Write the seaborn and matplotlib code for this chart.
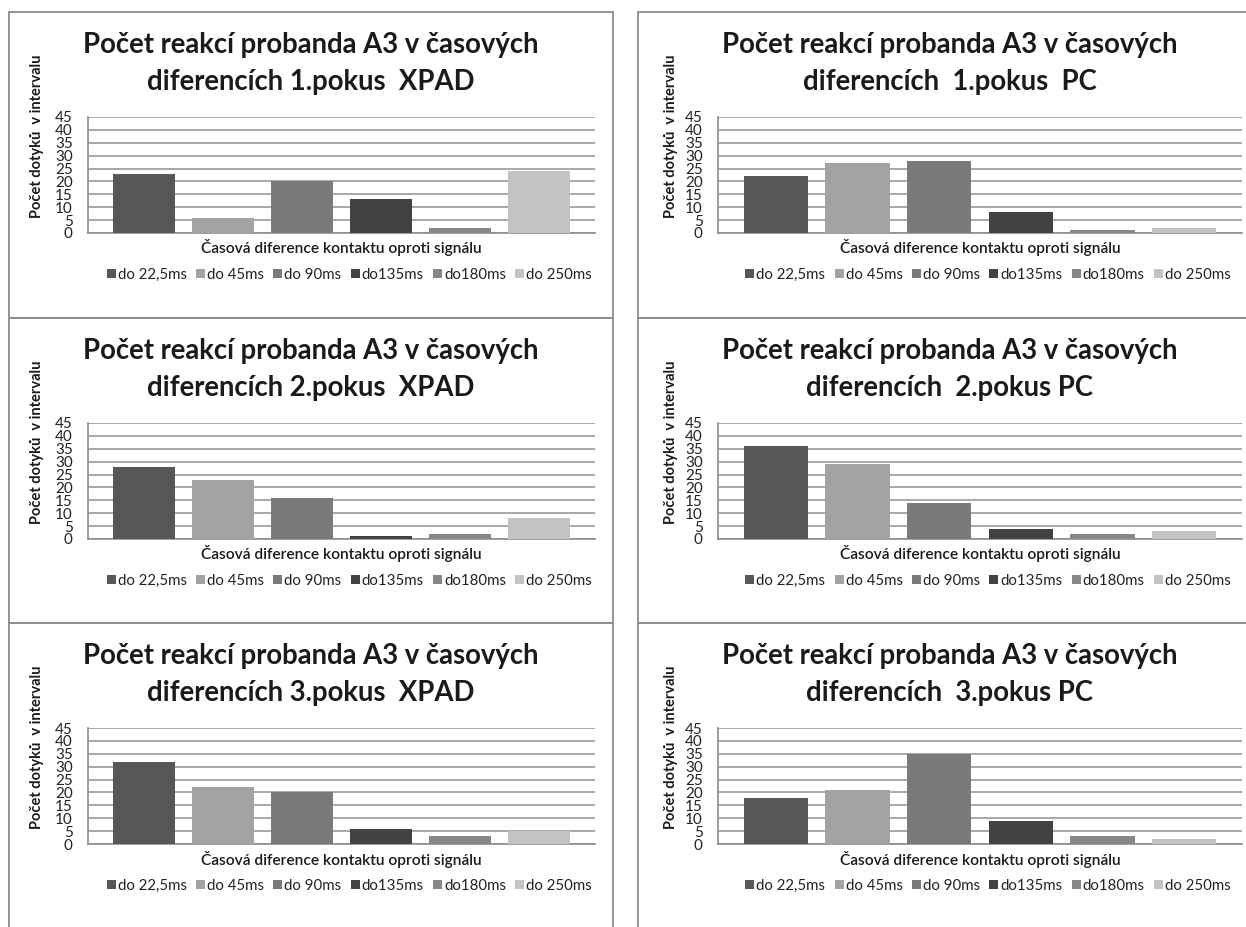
import matplotlib
matplotlib.use("Agg")
import matplotlib.pyplot as plt
import pandas as pd
import seaborn as sns
from matplotlib.patches import Rectangle

# categories (legend entries) and their grey shades
intervals = ["do 22,5ms", "do 45ms", "do 90ms", "do135ms", "do180ms", "do 250ms"]
greys = ["#575757", "#a3a3a3", "#7a7a7a", "#424242", "#878787", "#c3c3c3"]

title_top = "Počet reakcí probanda A3 v časových"
subtitles_xpad = ["diferencích 1.pokus  XPAD", "diferencích 2.pokus  XPAD", "diferencích 3.pokus  XPAD"]
subtitles_pc = ["diferencích  1.pokus  PC", "diferencích  2.pokus PC", "diferencích  3.pokus PC"]

xpad_1 = [23, 6, 20, 13, 2, 24]
xpad_2 = [28, 23, 16, 1, 2, 8]
xpad_3 = [32, 22, 20, 6, 3, 5]
pc_1 = [22, 27, 28, 8, 1, 2]
pc_2 = [36, 29, 14, 4, 2, 3]
pc_3 = [18, 21, 35, 9, 3, 2]

y_label = "Počet dotyků  v intervalu"
x_label = "Časová diference kontaktu oproti signálu"
y_ticks = [0, 5, 10, 15, 20, 25, 30, 35, 40, 45]

W, H = 1246, 927
FONT = ["Lato", "DejaVu Sans"]

sns.set_theme(style="white")
plt.rcParams["font.family"] = FONT

fig = plt.figure(figsize=(W / 100, H / 100), dpi=100)
fig.patch.set_facecolor("white")


def fx(px):
    return px / W


def fy(py):
    return 1 - py / H


# (border x0, border x1, plot x0, plot x1, ylabel x, subtitles, data)
columns = [
    (9, 613, 88, 595, 37, subtitles_xpad, [xpad_1, xpad_2, xpad_3]),
    (638, 1262, 718, 1242, 671, subtitles_pc, [pc_1, pc_2, pc_3]),
]
row_tops = [12, 318, 623]

for bx0, bx1, px0, px1, ylx, subs, datasets in columns:
    for r, top in enumerate(row_tops):
        bottom = row_tops[r + 1] if r < 2 else H + 5
        fig.patches.append(Rectangle((fx(bx0), fy(bottom)), fx(bx1 - bx0), (bottom - top) / H,
                                     transform=fig.transFigure, fill=False,
                                     edgecolor="#8c8c8c", linewidth=1.3, zorder=0))
        cx = (bx0 + bx1) / 2
        fig.text(fx(cx), fy(top + 33), title_top, ha="center", va="center",
                 fontsize=19.8, fontweight="bold", color="#1a1a1a")
        fig.text(fx(cx), fy(top + 70), subs[r], ha="center", va="center",
                 fontsize=19.8, fontweight="bold", color="#1a1a1a")

        ptop, pbot = top + 105, top + 221
        ax = fig.add_axes([fx(px0), fy(pbot), fx(px1 - px0), (pbot - ptop) / H])
        df = pd.DataFrame({"interval": intervals, "count": datasets[r]})
        sns.barplot(data=df, x="interval", y="count", hue="interval", order=intervals,
                    hue_order=intervals, palette=greys, width=0.79, ax=ax,
                    legend=False, saturation=1, linewidth=0, zorder=3)
        ax.set_xlim(-0.71, 5.71)
        ax.set_ylim(0, 45)
        ax.set_yticks(y_ticks)
        ax.set_xticks([])
        ax.set_xlabel("")
        ax.set_ylabel("")
        ax.yaxis.grid(True, color="#9a9a9a", linewidth=1.2, zorder=0)
        ax.set_axisbelow(True)
        ax.tick_params(axis="y", length=0, pad=11, labelsize=11, labelcolor="#222222")
        for side in ["top", "right"]:
            ax.spines[side].set_visible(False)
        for side in ["left", "bottom"]:
            ax.spines[side].set_color("#8c8c8c")
            ax.spines[side].set_linewidth(1.2)

        fig.text(fx(ylx), fy(top + 124), y_label, rotation=90, ha="center", va="center",
                 fontsize=10.5, fontweight="bold", color="#1a1a1a")
        pcx = (px0 + px1) / 2
        fig.text(fx(pcx), fy(top + 236), x_label, ha="center", va="center",
                 fontsize=11.2, fontweight="semibold", color="#1a1a1a")

        handles = [Rectangle((0, 0), 1, 1, facecolor=c, edgecolor="none") for c in greys]
        fig.legend(handles, intervals, loc="center", bbox_to_anchor=(fx(pcx + 8), fy(top + 263)),
                   ncol=6, frameon=False, fontsize=10.8, handlelength=0.6, handleheight=0.6,
                   handletextpad=0.15, columnspacing=0.6, labelcolor="#222222")

fig.savefig("out.png", dpi=100, facecolor="white")
